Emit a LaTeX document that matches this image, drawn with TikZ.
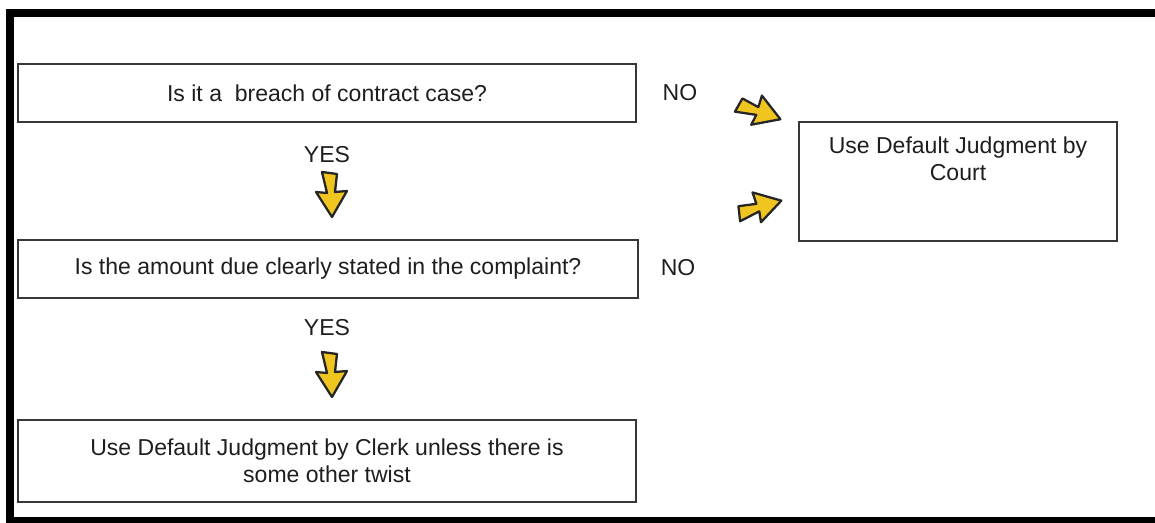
\documentclass[tikz,border=0pt]{standalone}
\usepackage{fontspec}
\setmainfont{Liberation Sans}
\definecolor{boltyellow}{RGB}{240,197,32}
\definecolor{boxline}{RGB}{55,55,55}
\definecolor{txt}{RGB}{30,30,30}
\tikzset{
  qbox/.style={draw=boxline, line width=1.1pt, rectangle, align=center, text=txt,
    font=\fontsize{13.1}{15.4}\selectfont},
  answer/.style={text=txt, font=\fontsize{13.1}{15.4}\selectfont},
  bolt/.pic={
    \filldraw[fill=boltyellow, draw=black!85, line width=1.3pt, line join=round]
      (-10,-23) -- (5,-21) -- (3,-3) -- (15,-4) -- (0,22) -- (-16,-3) -- (-5,-2) -- cycle;
  }
}
\begin{document}
\begin{tikzpicture}[x=0.02cm, y=-0.02cm]
	\useasboundingbox (0,0) rectangle (1155,523);
	% frame
	\fill[black] (6,9) rectangle (1155,17);
	\fill[black] (6,9) rectangle (14,523);
	\fill[black] (6,517) rectangle (1155,523);

	% questions
	\node[qbox, minimum width=12.36cm, minimum height=1.16cm] (breach) at (327,93) {Is it a \ breach of contract case?};
	\node[qbox, minimum width=12.4cm, minimum height=1.16cm] (amount) at (328,269) {Is the amount due clearly stated in the complaint?};
	\node[qbox, minimum width=12.36cm, minimum height=1.64cm] (clerk) at (327,461) {Use Default Judgment by Clerk unless there is\\some other twist};
	\node[qbox, minimum width=6.36cm, minimum height=2.38cm] (court) at (958,181.5) {};
	\node[answer, align=center, anchor=north] (courttext) at ([yshift=-0.2cm]court.north) {Use Default Judgment by\\Court};

	% answers
	\node[answer] (yes1) at (327,155) {YES};
	\node[answer] (yes2) at (327,328) {YES};
	\node[answer] (no1) at (680,93) {NO};
	\node[answer] (no2) at (678,268) {NO};

	% arrows
	\pic at (332,195) {bolt};
	\pic at (332,375) {bolt};
	\pic[rotate=68] at (760,111) {bolt};
	\pic[rotate=104] at (760,206) {bolt};
\end{tikzpicture}
\end{document}
